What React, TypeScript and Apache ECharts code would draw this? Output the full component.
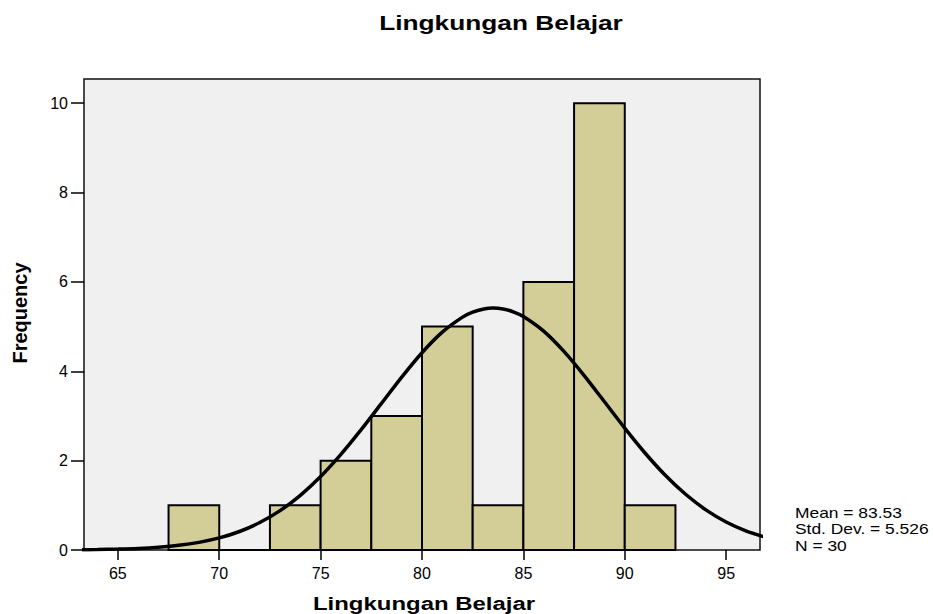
import React, { useEffect, useRef } from "react";
import * as echarts from "echarts";

const titleText = "Lingkungan Belajar";
const xAxisName = "Lingkungan Belajar";
const yAxisName = "Frequency";
const statsLines = ["Mean = 83.53", "Std. Dev. = 5.526", "N = 30"];

const binLower = [67.5, 70, 72.5, 75, 77.5, 80, 82.5, 85, 87.5, 90];
const binUpper = [70, 72.5, 75, 77.5, 80, 82.5, 85, 87.5, 90, 92.5];
const binCounts = [1, 0, 1, 2, 3, 5, 1, 6, 10, 1];

const curveX = [63, 64, 65, 66, 67, 68, 69, 70, 71, 72, 73, 74, 75, 76, 77, 78, 79, 80, 81, 82, 82.5, 83, 83.5, 84, 84.5, 85, 86, 87, 88, 89, 90, 91, 92, 93, 94, 95, 96, 97];
const curveY = [0.005, 0.011, 0.02, 0.035, 0.062, 0.104, 0.171, 0.27, 0.414, 0.614, 0.881, 1.224, 1.645, 2.14, 2.693, 3.281, 3.869, 4.415, 4.875, 5.211, 5.321, 5.389, 5.414, 5.394, 5.331, 5.226, 4.899, 4.445, 3.903, 3.317, 2.728, 2.171, 1.672, 1.247, 0.899, 0.628, 0.424, 0.278];

const xTicks = [65, 70, 75, 80, 85, 90, 95];
const yTicks = [0, 2, 4, 6, 8, 10];

const FONT = "Liberation Sans, Arial, Helvetica, sans-serif";

export default function App() {
  const ref = useRef<HTMLDivElement>(null);
  useEffect(() => {
    if (!ref.current) return;
    const chart = echarts.init(ref.current, null, { renderer: "svg" });
    const bins = binLower.map((lo, i) => [lo, binUpper[i], binCounts[i]]);
    const curve = curveX.map((x, i) => [x, curveY[i]]);
    chart.setOption({
      animation: false,
      backgroundColor: "#ffffff",
      grid: {
        left: 84,
        top: 79,
        width: 676,
        height: 471,
        show: true,
        backgroundColor: "#F0F0F0",
        borderColor: "#111",
        borderWidth: 1.5,
      },
      xAxis: {
        type: "value",
        min: 63.33,
        max: 96.67,
        splitLine: { show: false },
        axisLine: { show: false },
        axisTick: { show: true, length: 10, lineStyle: { color: "#000", width: 1.5 }, customValues: xTicks },
        axisLabel: { customValues: xTicks, margin: 15, fontSize: 16, color: "#000", fontFamily: FONT },
      },
      yAxis: {
        type: "value",
        min: 0,
        max: 10.54,
        splitLine: { show: false },
        axisLine: { show: false },
        axisTick: { show: true, length: 13, lineStyle: { color: "#000", width: 1.5 }, customValues: yTicks },
        axisLabel: { customValues: yTicks, margin: 16, fontSize: 16, color: "#000", fontFamily: FONT },
      },
      series: [
        {
          type: "custom",
          data: bins,
          encode: { x: [0, 1], y: 2 },
          z: 2,
          renderItem: (params: any, api: any) => {
            const p1 = api.coord([api.value(0), api.value(2)]);
            const p2 = api.coord([api.value(1), 0]);
            return {
              type: "rect",
              shape: { x: p1[0], y: p1[1], width: p2[0] - p1[0], height: p2[1] - p1[1] },
              style: { fill: "#D3CE98", stroke: "#000", lineWidth: 2 },
            };
          },
        },
        {
          type: "line",
          data: curve,
          smooth: 0.25,
          symbol: "none",
          z: 3,
          lineStyle: { color: "#000", width: 3.5 },
        },
      ],
      graphic: [
        {
          type: "text",
          x: 501,
          y: 22,
          scaleX: 1.25,
          style: { text: titleText, fontSize: 21, fontWeight: "bold", fontFamily: FONT, fill: "#000", align: "center", verticalAlign: "middle" },
        },
        {
          type: "text",
          x: 424,
          y: 603,
          scaleX: 1.26,
          style: { text: xAxisName, fontSize: 19, fontWeight: "bold", fontFamily: FONT, fill: "#000", align: "center", verticalAlign: "middle" },
        },
        {
          type: "text",
          x: 20,
          y: 313,
          rotation: Math.PI / 2,
          style: { text: yAxisName, fontSize: 20, fontWeight: "bold", fontFamily: FONT, fill: "#000", align: "center", verticalAlign: "middle" },
        },
        ...statsLines.map((t, i) => ({
          type: "text",
          x: 795,
          y: 512 + i * 16.5,
          scaleX: 1.16,
          style: { text: t, fontSize: 15, fontFamily: FONT, fill: "#000", align: "left", verticalAlign: "middle" },
        })),
      ],
    });
    return () => chart.dispose();
  }, []);
  return <div ref={ref} style={{ position: "fixed", left: 0, top: 0, width: 933, height: 614 }} />;
}
